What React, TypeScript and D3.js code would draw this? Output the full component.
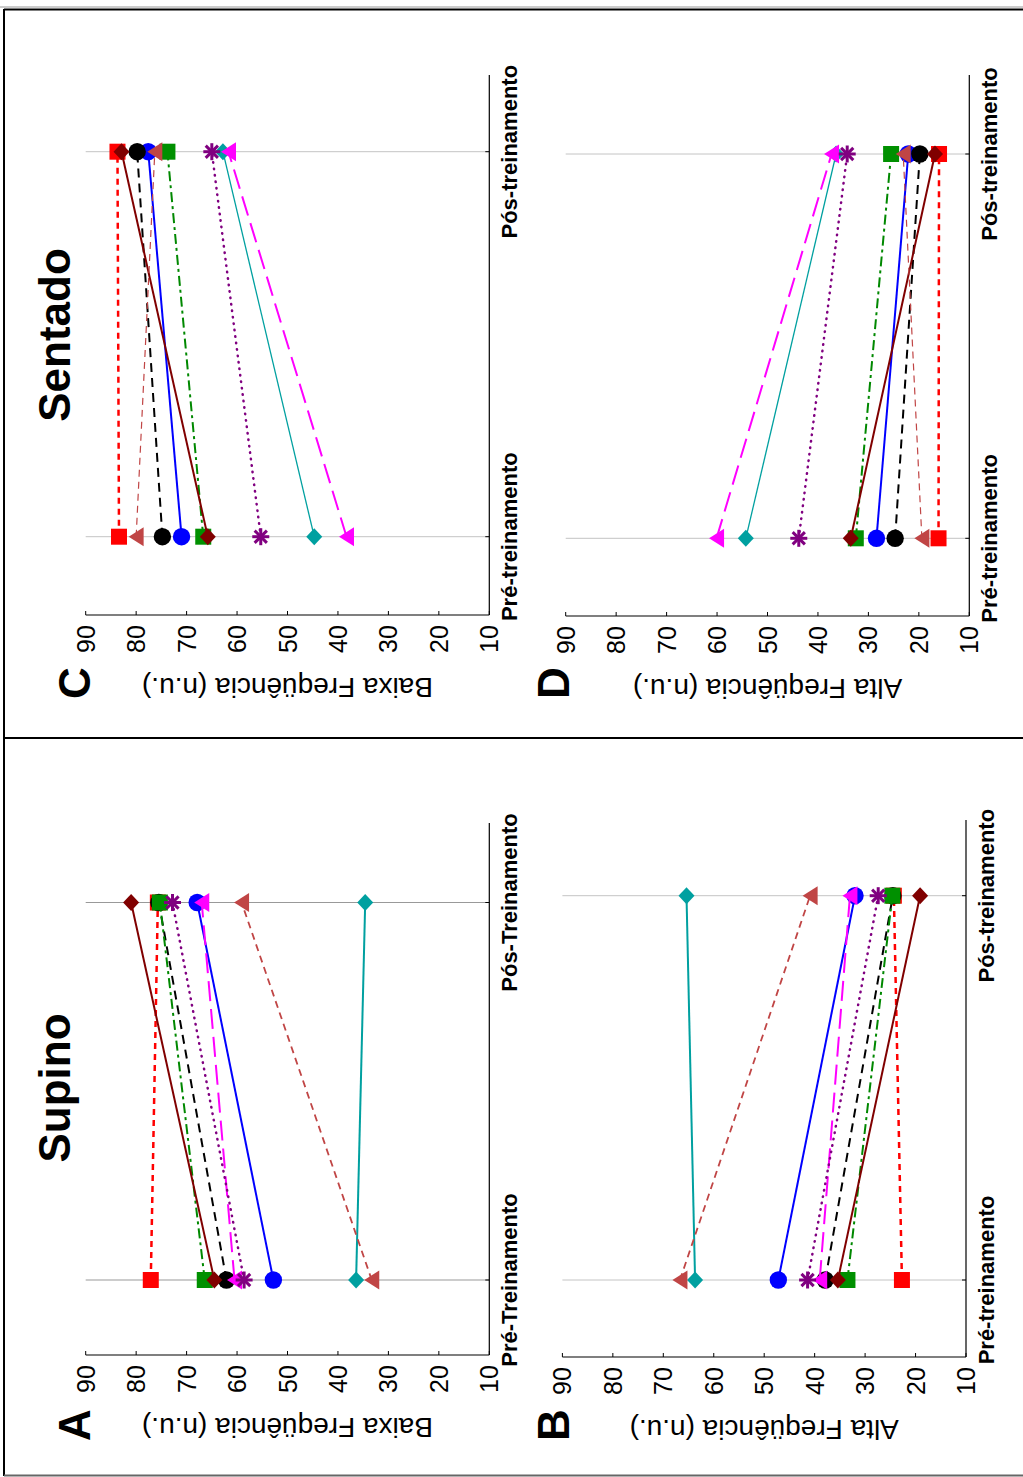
import React from "react";
import * as d3 from "d3";

// ---------- data ----------
const panelIds = ["A", "B", "C", "D"];
const titles = ["Supino", "Sentado"];
const catLabelsA = ["Pré-Treinamento", "Pós-Treinamento"];
const catLabelsOther = ["Pré-treinamento", "Pós-treinamento"];
const valueTicks = [90, 80, 70, 60, 50, 40, 30, 20, 10];
const yAxisLabels = [
  "Baixa Freqüência (n.u.)",
  "Alta Freqüência (n.u.)",
  "Baixa Freqüência (n.u.)",
  "Alta Freqüência (n.u.)",
];

// [Pré, Pós] for panels A, B, C, D
const redVals = [[77.1, 75.7], [22.7, 24.3], [83.4, 83.7], [16.1, 16.0]];
const blueVals = [[52.8, 67.9], [47.2, 32.0], [71.0, 77.6], [28.4, 22.1]];
const blackVals = [[62.1, 75.5], [37.9, 24.5], [74.8, 79.8], [24.7, 19.8]];
const greenVals = [[66.4, 75.3], [33.5, 24.6], [66.7, 73.8], [32.5, 25.5]];
const darkRedVals = [[64.5, 81.0], [35.4, 19.1], [65.8, 82.9], [33.5, 16.8]];
const tealVals = [[36.4, 34.6], [63.7, 65.4], [44.7, 62.8], [54.3, 36.4]];
const magentaVals = [[60.5, 67.0], [39.0, 33.0], [38.3, 61.7], [60.1, 37.3]];
const purpleVals = [[58.6, 72.8], [41.4, 27.4], [55.3, 65.0], [43.8, 34.2]];
const brownVals = [[33.3, 59.1], [66.7, 40.9], [80.0, 76.3], [19.4, 23.1]];

// ---------- styles / layout ----------
const FONT = "'Liberation Sans', Arial, Helvetica, sans-serif";

type Shape = "square" | "circle" | "diamond" | "triangle" | "asterisk";
const seriesList: {
  vals: number[][];
  color: string;
  markerColor: string;
  width: number;
  thinWidth?: number;
  dash: string;
  cap?: string;
  shape: Shape;
}[] = [
  { vals: redVals, color: "#ff0000", markerColor: "#ff0000", width: 2.5, dash: "6,5", shape: "square" },
  { vals: blueVals, color: "#0000ff", markerColor: "#0000ff", width: 2, dash: "", shape: "circle" },
  { vals: blackVals, color: "#000000", markerColor: "#000000", width: 2, dash: "9,6", shape: "circle" },
  { vals: greenVals, color: "#008800", markerColor: "#009000", width: 2, dash: "10,4,3,4", shape: "square" },
  { vals: darkRedVals, color: "#800000", markerColor: "#800000", width: 2, dash: "", shape: "diamond" },
  { vals: tealVals, color: "#00a0a0", markerColor: "#00a0a0", width: 2, thinWidth: 1.3, dash: "", shape: "diamond" },
  { vals: magentaVals, color: "#ff00ff", markerColor: "#ff00ff", width: 2, dash: "20,8", shape: "triangle" },
  { vals: purpleVals, color: "#800080", markerColor: "#800080", width: 2.5, dash: "0.5,6", cap: "round", shape: "asterisk" },
  { vals: brownVals, color: "#c04545", markerColor: "#c04545", width: 1.8, thinWidth: 1.2, dash: "7,5", shape: "triangle" },
];

const panels = [
  { vx0: 85.7, vx1: 489.3, axisY: 1355, preY: 1280, posY: 902.5, topY: 823, labelY: 1418, letter: [90, 1425], grid: "#999", cats: catLabelsA, thin: false },
  { vx0: 562.4, vx1: 966, axisY: 1357, preY: 1280, posY: 895.7, topY: 820, labelY: 1420, letter: [569, 1425], grid: "#c4c4c4", cats: catLabelsOther, thin: false },
  { vx0: 85.7, vx1: 489.3, axisY: 615, preY: 536.7, posY: 151.7, topY: 75, labelY: 678, letter: [90, 683], grid: "#c4c4c4", cats: catLabelsOther, thin: true },
  { vx0: 565.7, vx1: 969.3, axisY: 616, preY: 538.3, posY: 154, topY: 75, labelY: 679, letter: [569, 683], grid: "#c4c4c4", cats: catLabelsOther, thin: true },
];

function Marker({ shape, x, y, color }: { shape: Shape; x: number; y: number; color: string }) {
  if (shape === "square") return <rect x={x - 8} y={y - 8} width={16} height={16} fill={color} />;
  if (shape === "circle") return <circle cx={x} cy={y} r={8.7} fill={color} />;
  if (shape === "diamond")
    return <path d={`M${x},${y - 8.5}L${x + 8},${y}L${x},${y + 8.5}L${x - 8},${y}Z`} fill={color} />;
  if (shape === "triangle")
    return <path d={`M${x - 7.5},${y}L${x + 7.5},${y - 9.5}L${x + 7.5},${y + 9.5}Z`} fill={color} />;
  const r = 8.5;
  const d = r * 0.72;
  return (
    <g stroke={color} strokeWidth={3}>
      <line x1={x - r} y1={y} x2={x + r} y2={y} />
      <line x1={x} y1={y - r} x2={x} y2={y + r} />
      <line x1={x - d} y1={y - d} x2={x + d} y2={y + d} />
      <line x1={x - d} y1={y + d} x2={x + d} y2={y - d} />
    </g>
  );
}

function Panel({ idx }: { idx: number }) {
  const p = panels[idx];
  const vScale = d3.scaleLinear().domain([10, 90]).range([p.vx1, p.vx0]);
  const cScale = d3.scaleLinear().domain([1, 2]).range([p.preY, p.posY]);
  const line = d3
    .line<number>()
    .x((d) => vScale(d))
    .y((_, i) => cScale(i + 1));
  const midX = (p.vx0 + p.vx1) / 2;
  return (
    <g>
      {[1, 2].map((c) => (
        <line key={c} x1={p.vx0} x2={p.vx1} y1={cScale(c)} y2={cScale(c)} stroke={p.grid} strokeWidth={1} />
      ))}
      <line x1={p.vx0} x2={p.vx1} y1={p.axisY} y2={p.axisY} stroke="#000" strokeWidth={1.2} />
      {valueTicks.map((t) => (
        <g key={t}>
          <line x1={vScale(t)} x2={vScale(t)} y1={p.axisY} y2={p.axisY - 4} stroke="#000" strokeWidth={1} />
          <text
            transform={`translate(${vScale(t) + 9},${p.axisY + 24}) rotate(-90)`}
            textAnchor="middle"
            fontSize={25}
            fontFamily={FONT}
          >
            {t}
          </text>
        </g>
      ))}
      <line x1={p.vx1} x2={p.vx1} y1={p.topY} y2={p.axisY} stroke="#000" strokeWidth={1.2} />
      {[1, 2].map((c) => (
        <g key={c}>
          <line x1={p.vx1} x2={p.vx1 - 4} y1={cScale(c)} y2={cScale(c)} stroke="#000" strokeWidth={1} />
          <text
            transform={`translate(${p.vx1 + 28},${cScale(c)}) rotate(-90)`}
            textAnchor="middle"
            fontSize={22}
            fontWeight="bold"
            fontFamily={FONT}
          >
            {p.cats[c - 1]}
          </text>
        </g>
      ))}
      <text
        transform={`translate(${midX},${p.labelY}) rotate(180)`}
        textAnchor="middle"
        fontSize={28}
        fontFamily={FONT}
      >
        {yAxisLabels[idx]}
      </text>
      <text
        transform={`translate(${p.letter[0]},${p.letter[1]}) rotate(-90)`}
        textAnchor="middle"
        fontSize={44}
        fontWeight="bold"
        fontFamily={FONT}
      >
        {panelIds[idx]}
      </text>
      {seriesList.map((s, si) => {
        const vals = s.vals[idx];
        const w = p.thin && s.thinWidth ? s.thinWidth : s.width;
        return (
          <g key={si}>
            <path
              d={line(vals) || ""}
              fill="none"
              stroke={s.color}
              strokeWidth={w}
              strokeDasharray={s.dash || undefined}
              strokeLinecap={(s.cap as any) || "butt"}
            />
            {vals.map((v, i) => (
              <Marker key={i} shape={s.shape} x={vScale(v)} y={cScale(i + 1)} color={s.markerColor} />
            ))}
          </g>
        );
      })}
    </g>
  );
}

export default function App() {
  return (
    <svg
      width={1023}
      height={1477}
      style={{ position: "absolute", left: 0, top: 0, background: "#fff" }}
      xmlns="http://www.w3.org/2000/svg"
    >
      <rect x={0} y={0} width={1023} height={1477} fill="#fff" />
      <line x1={0} x2={1023} y1={7} y2={7} stroke="#999" strokeWidth={1} />
      <line x1={4} x2={1023} y1={9.5} y2={9.5} stroke="#000" strokeWidth={2} />
      <line x1={4} x2={4} y1={9} y2={1476} stroke="#000" strokeWidth={2} />
      <line x1={4} x2={1023} y1={738} y2={738} stroke="#000" strokeWidth={2} />
      <line x1={4} x2={1023} y1={1475.5} y2={1475.5} stroke="#666" strokeWidth={2} />
      <text transform="translate(70,1088) rotate(-90)" textAnchor="middle" fontSize={44} fontWeight="bold" fontFamily={FONT}>
        {titles[0]}
      </text>
      <text transform="translate(70,335) rotate(-90)" textAnchor="middle" fontSize={44} fontWeight="bold" fontFamily={FONT}>
        {titles[1]}
      </text>
      {panels.map((_, i) => (
        <Panel key={i} idx={i} />
      ))}
    </svg>
  );
}
